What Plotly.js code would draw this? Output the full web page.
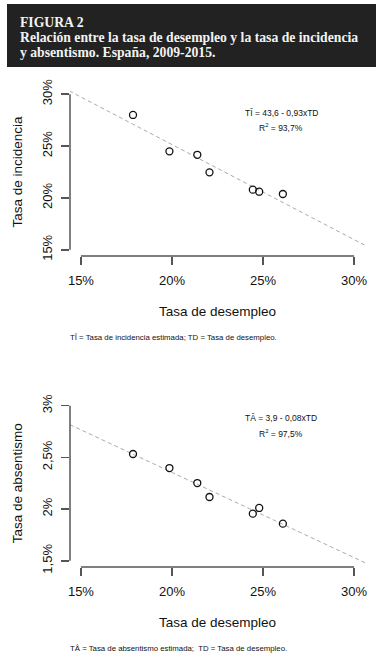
<!DOCTYPE html>
<html>
<head>
<meta charset="utf-8">
<script src="https://cdn.plot.ly/plotly-3.0.1.min.js"></script>
<style>
html,body{margin:0;padding:0;background:#fff;}
#chart{width:387px;height:667px;}
</style>
</head>
<body>
<div id="chart"></div>
<script>
// ---- Data, Spain 2009-2015 ----
const years = [2009, 2010, 2011, 2012, 2013, 2014, 2015];
const desempleo = [17.86, 19.86, 21.39, 24.79, 26.09, 24.44, 22.06];      // Tasa de desempleo (%)
const incidencia = [28.0, 24.49, 24.16, 20.6, 20.38, 20.8, 22.47];        // Tasa de incidencia (%)
const absentismo = [2.533, 2.397, 2.252, 2.011, 1.859, 1.956, 2.117];     // Tasa de absentismo (%)

const xTickVals = [15, 20, 25, 30];
const xTickText = ['15%', '20%', '25%', '30%'];
const y1TickVals = [15, 20, 25, 30];
const y1TickText = ['15%', '20%', '25%', '30%'];
const y2TickVals = [1.5, 2, 2.5, 3];
const y2TickText = ['1,5%', '2%', '2,5%', '3%'];

const xTitle = 'Tasa de desempleo';
const y1Title = 'Tasa de incidencia';
const y2Title = 'Tasa de absentismo';
const eq1 = 'TÎ = 43,6 - 0,93xTD';
const r2_1 = 'R<sup>2</sup> = 93,7%';
const eq2 = 'TÂ = 3,9 - 0,08xTD';
const r2_2 = 'R<sup>2</sup> = 97,5%';
const note1 = 'TÎ = Tasa de incidencia estimada; TD = Tasa de desempleo.';
const note2 = 'TÂ = Tasa de absentismo estimada;  TD = Tasa de desempleo.';
const headLines = ['FIGURA 2', 'Relación entre la tasa de desempleo y la tasa de incidencia', 'y absentismo. España, 2009-2015.'];

// least squares fit of the plotted points
function fit(x, y) {
  const n = x.length;
  const mx = x.reduce((a, b) => a + b, 0) / n;
  const my = y.reduce((a, b) => a + b, 0) / n;
  let sxy = 0, sxx = 0;
  for (let i = 0; i < n; i++) { sxy += (x[i] - mx) * (y[i] - my); sxx += (x[i] - mx) * (x[i] - mx); }
  const b = sxy / sxx;
  return { a: my - b * mx, b: b };
}
const f1 = fit(desempleo, incidencia);
const f2 = fit(desempleo, absentismo);
const lineX = [13, 32];

// ---- Layout geometry ----
const W = 387, H = 667;
const px = v => v / W;
const py = v => 1 - v / H;
const FONT = 'Liberation Sans, Arial, sans-serif';
const SERIF = 'Liberation Serif, Times New Roman, serif';
const AX = '#555';

const traces = [
  { x: lineX, y: lineX.map(v => f1.a + f1.b * v), xaxis: 'x', yaxis: 'y', mode: 'lines',
    line: { color: '#aaaaaa', width: 1, dash: '4px,3px' }, hoverinfo: 'skip' },
  { x: desempleo, y: incidencia, xaxis: 'x', yaxis: 'y', mode: 'markers',
    marker: { symbol: 'circle-open', size: 7, color: '#111', line: { width: 1.3, color: '#111' } } },
  { x: lineX, y: lineX.map(v => f2.a + f2.b * v), xaxis: 'x2', yaxis: 'y2', mode: 'lines',
    line: { color: '#aaaaaa', width: 1, dash: '4px,3px' }, hoverinfo: 'skip' },
  { x: desempleo, y: absentismo, xaxis: 'x2', yaxis: 'y2', mode: 'markers',
    marker: { symbol: 'circle-open', size: 7, color: '#111', line: { width: 1.3, color: '#111' } } }
];

function xAxis(anchor) {
  return { domain: [px(70), px(365)], anchor: anchor, range: [14.4, 30.6],
    tickmode: 'array', tickvals: xTickVals, ticktext: xTickText,
    ticks: 'outside', ticklen: 8, tickwidth: 1.5, tickcolor: AX,
    showline: false, showgrid: false, zeroline: false, fixedrange: true,
    ticklabelstandoff: 4,
    tickfont: { family: FONT, size: 13, color: '#111' },
    title: { text: xTitle, standoff: 19, font: { family: FONT, size: 13.5, color: '#111' } } };
}
function yAxis(anchor, dom, rng, tv, tt, title) {
  return { domain: dom, anchor: anchor, range: rng,
    tickmode: 'array', tickvals: tv, ticktext: tt, tickangle: -90,
    ticks: 'outside', ticklen: 8, tickwidth: 1.5, tickcolor: AX,
    showline: false, showgrid: false, zeroline: false, fixedrange: true,
    ticklabelstandoff: 4,
    tickfont: { family: FONT, size: 13, color: '#111' },
    title: { text: title, standoff: 14, font: { family: FONT, size: 13.5, color: '#111' } } };
}

const shapes = [
  { type: 'rect', xref: 'paper', yref: 'paper', x0: px(7), x1: px(376), y0: py(67), y1: py(4),
    fillcolor: '#222222', line: { width: 0 }, layer: 'below' },
  // R style axis lines (from first to last tick)
  { type: 'line', xref: 'x', yref: 'paper', x0: xTickVals[0], x1: xTickVals[3], y0: py(256), y1: py(256), line: { color: AX, width: 1.5 } },
  { type: 'line', xref: 'paper', yref: 'y', x0: px(70), x1: px(70), y0: y1TickVals[0], y1: y1TickVals[3], line: { color: AX, width: 1.5 } },
  { type: 'line', xref: 'x2', yref: 'paper', x0: xTickVals[0], x1: xTickVals[3], y0: py(567), y1: py(567), line: { color: AX, width: 1.5 } },
  { type: 'line', xref: 'paper', yref: 'y2', x0: px(70), x1: px(70), y0: y2TickVals[0], y1: y2TickVals[3], line: { color: AX, width: 1.5 } }
];

function ann(text, x, y, opts) {
  return Object.assign({ text: text, xref: 'paper', yref: 'paper', x: px(x), y: py(y),
    showarrow: false, xanchor: 'center', yanchor: 'middle',
    font: { family: FONT, size: 13, color: '#111' } }, opts || {});
}

const HEADF = { family: SERIF, size: 13.7, color: '#f2f2f2' };
const annotations = [
  ann('<b>' + headLines[0] + '</b>', 18, 22.5, { xanchor: 'left', font: HEADF }),
  ann('<b>' + headLines[1] + '</b>', 18, 37.5, { xanchor: 'left', font: HEADF }),
  ann('<b>' + headLines[2] + '</b>', 18, 52, { xanchor: 'left', font: HEADF }),

  ann(eq1, 281, 113, { font: { family: FONT, size: 8.5, color: '#111' } }),
  ann(r2_1, 281, 127, { font: { family: FONT, size: 8.5, color: '#111' } }),
  ann(eq2, 281, 418, { font: { family: FONT, size: 8.5, color: '#111' } }),
  ann(r2_2, 281, 433, { font: { family: FONT, size: 8.5, color: '#111' } }),

  ann(note1, 68, 337, { xanchor: 'left', font: { family: FONT, size: 7.8, color: '#111' } }),
  ann(note2, 68, 648, { xanchor: 'left', font: { family: FONT, size: 7.8, color: '#111' } })
];

const layout = {
  width: W, height: H,
  margin: { l: 0, r: 0, t: 0, b: 0 },
  paper_bgcolor: '#ffffff', plot_bgcolor: 'rgba(0,0,0,0)',
  showlegend: false,
  xaxis: xAxis('y'),
  yaxis: yAxis('x', [py(256), py(88)], [14.4, 30.6], y1TickVals, y1TickText, y1Title),
  xaxis2: xAxis('y2'),
  yaxis2: yAxis('x2', [py(567), py(399.5)], [1.44, 3.06], y2TickVals, y2TickText, y2Title),
  shapes: shapes,
  annotations: annotations
};

Plotly.newPlot('chart', traces, layout, { displayModeBar: false, staticPlot: true });
</script>
</body>
</html>
